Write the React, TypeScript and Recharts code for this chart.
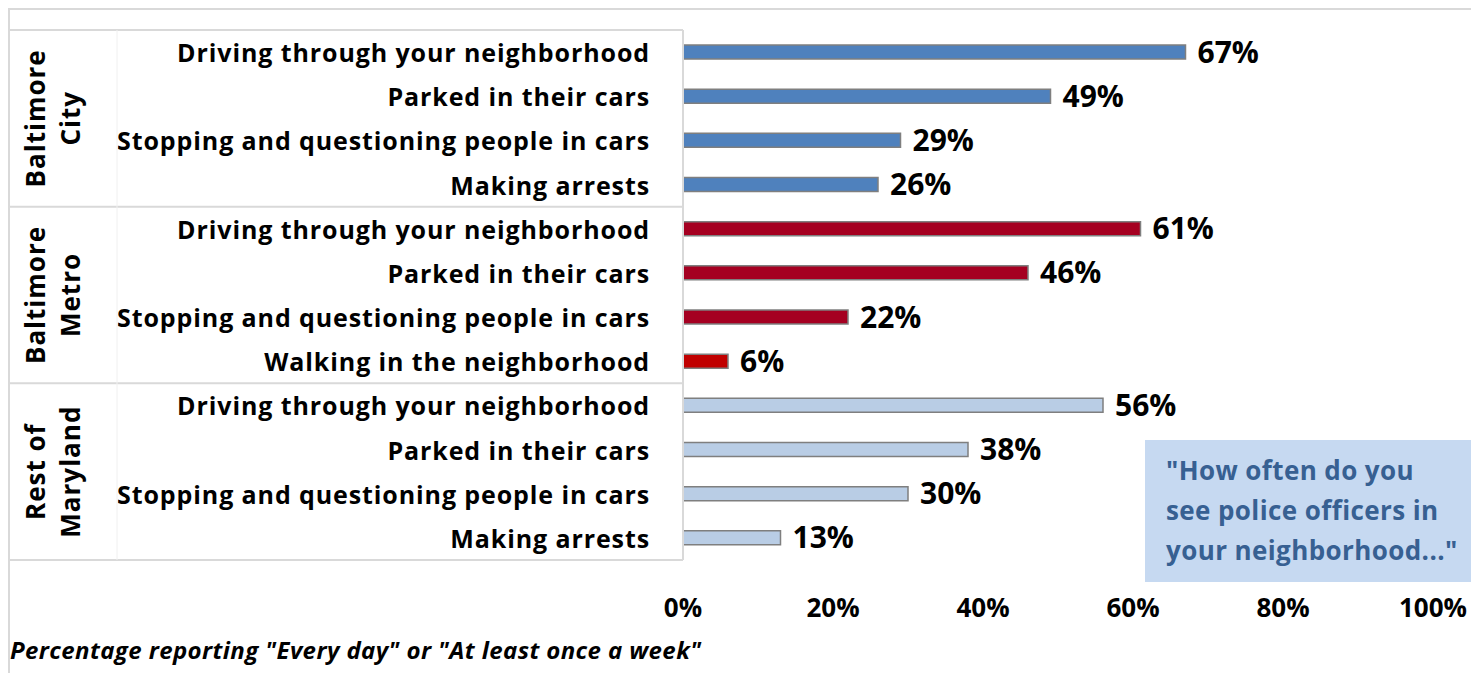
import React from "react";
import { BarChart, Bar, XAxis, YAxis, Cell, LabelList } from "recharts";

// Baltimore City
const cityItems = [
  "Driving through your neighborhood",
  "Parked in their cars",
  "Stopping and questioning people in cars",
  "Making arrests",
];
const cityValues = [67, 49, 29, 26];

// Baltimore Metro
const metroItems = [
  "Driving through your neighborhood",
  "Parked in their cars",
  "Stopping and questioning people in cars",
  "Walking in the neighborhood",
];
const metroValues = [61, 46, 22, 6];

// Rest of Maryland
const restItems = [
  "Driving through your neighborhood",
  "Parked in their cars",
  "Stopping and questioning people in cars",
  "Making arrests",
];
const restValues = [56, 38, 30, 13];

const groupNames = [
  ["Baltimore", "City"],
  ["Baltimore", "Metro"],
  ["Rest of", "Maryland"],
];
const xTicks = [0, 20, 40, 60, 80, 100];
const caption = 'Percentage reporting "Every day" or "At least once a week"';
const question = ['"How often do you', "see police officers in", 'your neighborhood..."'];

const groupFills = ["#4F81BD", "#A50021", "#B9CDE5"];
const walkingFill = "#C00000";
const gridGray = "#D9D9D9";
const FONT = "'Open Sans', sans-serif";

const W = 1471;
const H = 673;
const M = { top: 30, right: 38, bottom: 0, left: 8 };
const Y_W = 675;
const X_H = 113;

const groupItems = [cityItems, metroItems, restItems];
const groupValues = [cityValues, metroValues, restValues];

const rows = groupItems.flatMap((items, g) =>
  items.map((label, i) => ({
    id: `${g}-${i}`,
    label,
    group: g,
    first: i === 0,
    value: groupValues[g][i],
  }))
);

const band = (H - M.top - M.bottom - X_H) / rows.length;
const axisX = M.left + Y_W;

function CatTick(props: any) {
  const { x, y, payload } = props;
  const index = props.index ?? payload.index;
  const row = rows[index];
  if (!row) return null;
  const top = y - band / 2;
  const mid = top + (band * groupItems[row.group].length) / 2;
  const last = index === rows.length - 1;
  return (
    <g>
      <text
        x={x - 25}
        y={y}
        textAnchor="end"
        dominantBaseline="central"
        fontFamily={FONT}
        fontSize={25}
        fontWeight={700}
        letterSpacing={0.9}
        fill="#000"
      >
        {row.label}
      </text>
      {row.first && (
        <g>
          <line x1={M.left} x2={axisX} y1={top} y2={top} stroke={gridGray} strokeWidth={2} />
          {groupNames[row.group].map((t, k) => (
            <text
              key={k}
              transform={`translate(${35 + k * 35},${mid}) rotate(-90)`}
              textAnchor="middle"
              dominantBaseline="central"
              fontFamily={FONT}
              fontSize={26}
              fontWeight={700}
              letterSpacing={1}
              fill="#000"
            >
              {t}
            </text>
          ))}
        </g>
      )}
      {last && (
        <g>
          <line x1={M.left} x2={axisX} y1={y + band / 2} y2={y + band / 2} stroke={gridGray} strokeWidth={2} />
          <line x1={117} x2={117} y1={M.top} y2={y + band / 2} stroke="#F0F0F0" strokeWidth={1} />
        </g>
      )}
    </g>
  );
}

function PctTick(props: any) {
  const { x, y, payload } = props;
  return (
    <text
      x={x}
      y={y + 39}
      textAnchor="middle"
      dominantBaseline="central"
      fontFamily={FONT}
      fontSize={26}
      fontWeight={700}
      fill="#000"
    >
      {`${payload.value}%`}
    </text>
  );
}

export default function App() {
  return (
    <div style={{ position: "absolute", left: 0, top: 0, width: W, height: H, background: "#fff", fontFamily: FONT }}>
      <div
        style={{
          position: "absolute",
          left: 8,
          top: 8,
          width: W,
          height: H,
          borderTop: `2px solid ${gridGray}`,
          borderLeft: `2px solid ${gridGray}`,
          boxSizing: "border-box",
        }}
      />
      <div style={{ position: "absolute", left: 0, top: 0 }}>
        <BarChart width={W} height={H} data={rows} layout="vertical" margin={M}>
          <XAxis
            type="number"
            domain={[0, 100]}
            ticks={xTicks}
            axisLine={false}
            tickLine={false}
            height={X_H}
            tick={<PctTick />}
            interval={0}
          />
          <YAxis
            type="category"
            dataKey="id"
            width={Y_W}
            axisLine={{ stroke: gridGray, strokeWidth: 2 }}
            tickLine={false}
            tick={<CatTick />}
            interval={0}
          />
          <Bar dataKey="value" barSize={14} stroke="#7F7F7F" strokeWidth={1.5} isAnimationActive={false}>
            {rows.map((r) => (
              <Cell
                key={r.id}
                fill={r.label === "Walking in the neighborhood" ? walkingFill : groupFills[r.group]}
              />
            ))}
            <LabelList
              dataKey="value"
              position="right"
              offset={12}
              formatter={(v: any) => `${v}%`}
              style={{ fontFamily: FONT, fontSize: 30, fontWeight: 700, fill: "#000" }}
            />
          </Bar>
        </BarChart>
      </div>
      <div
        style={{
          position: "absolute",
          left: 1145,
          top: 440,
          width: W - 1145,
          height: 142,
          background: "#C6D9F1",
          boxSizing: "border-box",
          padding: "10px 0 0 21px",
          color: "#376092",
          fontSize: 26,
          fontWeight: 700,
          letterSpacing: 0.4,
          lineHeight: "40px",
          whiteSpace: "nowrap",
        }}
      >
        {question.map((q, i) => (
          <div key={i}>{q}</div>
        ))}
      </div>
      <div
        style={{
          position: "absolute",
          left: 10,
          top: 633,
          fontSize: 24,
          fontWeight: 700,
          fontStyle: "italic",
          letterSpacing: 0.4,
          color: "#000",
          whiteSpace: "nowrap",
        }}
      >
        {caption}
      </div>
    </div>
  );
}
